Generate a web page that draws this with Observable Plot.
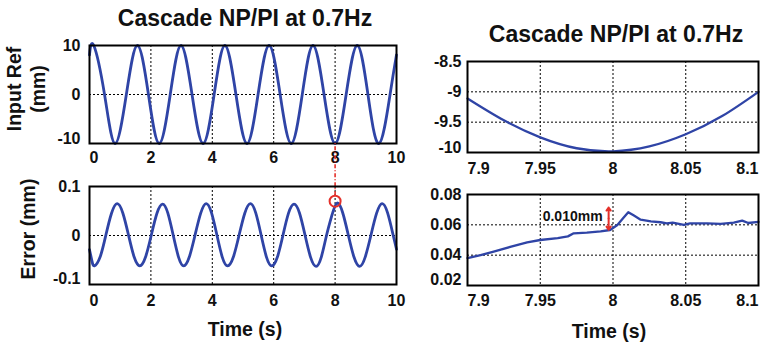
<!DOCTYPE html>
<html><head><meta charset="utf-8">
<script src="https://cdn.jsdelivr.net/npm/d3@7"></script>
<script src="https://cdn.jsdelivr.net/npm/@observablehq/plot@0.6"></script>
<style>
body{margin:0;background:#fff;}
#c{position:relative;width:760px;height:347px;overflow:hidden;font-family:'Liberation Sans',Arial,sans-serif;font-weight:bold;color:#111;}
.p{position:absolute;}
.t{position:absolute;white-space:pre;line-height:1;}
</style></head><body><div id="c"></div>
<script>
// ---------- data ----------
// Left top: input reference (mm) vs time (s)
const refT = [0, 0.14, 0.49, 0.83, 1.20, 1.56, 1.92, 2.27, 2.63, 2.98, 3.34, 3.70, 4.06, 4.41, 4.77, 5.13, 5.49, 5.85, 6.21, 6.57, 6.93, 7.28, 7.64, 8.00, 8.36, 8.72, 9.07, 9.43, 9.79, 10];
const refV = [8.1, 10, 0, -10, 0, 10, 0, -10, 0, 10, 0, -10, 0, 10, 0, -10, 0, 10, 0, -10, 0, 10, 0, -10, 0, 10, 0, -10, 0, 8.1];
// Left bottom: tracking error (mm) vs time (s)
const errT = [0, 0.08,
  0.16, 0.345, 0.53, 0.715, 0.90, 1.085, 1.27, 1.455,
  1.64, 1.825, 2.01, 2.195, 2.38, 2.55, 2.725, 2.90,
  3.07, 3.25, 3.435, 3.62, 3.80, 3.975, 4.15, 4.325,
  4.50, 4.685, 4.87, 5.055, 5.24, 5.415, 5.59, 5.765,
  5.94, 6.12, 6.30, 6.48, 6.66, 6.84, 7.02, 7.20,
  7.38, 7.55, 7.72, 7.89, 8.06, 8.245, 8.43, 8.615,
  8.80, 8.98, 9.165, 9.35, 9.53, 9.71, 9.89, 10];
const errV = [-0.029, -0.052,
  -0.062, -0.044, 0.000, 0.045, 0.065, 0.046, 0.001, -0.044,
  -0.062, -0.044, 0.000, 0.045, 0.064, 0.046, 0.001, -0.044,
  -0.062, -0.044, 0.000, 0.045, 0.065, 0.046, 0.001, -0.044,
  -0.062, -0.044, 0.000, 0.045, 0.065, 0.046, 0.001, -0.044,
  -0.062, -0.044, 0.000, 0.045, 0.064, 0.046, 0.001, -0.044,
  -0.063, -0.044, 0.000, 0.040, 0.066, 0.047, 0.001, -0.044,
  -0.063, -0.044, 0.000, 0.045, 0.065, 0.046, 0.001, -0.028];
// Right top: zoom of input reference around t = 8 s
const zRefT = [7.9, 7.925, 7.95, 7.975, 8.0, 8.025, 8.05, 8.075, 8.1];
const zRefV = [-9.11, -9.47, -9.75, -9.93, -9.98, -9.90, -9.70, -9.40, -9.0];
// Right bottom: zoom of error around t = 8 s
const zErrT = [7.9, 7.909, 7.918, 7.930, 7.941, 7.950, 7.962, 7.969, 7.973, 7.982, 7.9915, 7.998, 8.003, 8.0075, 8.0105, 8.0144, 8.019, 8.026, 8.0327, 8.037, 8.041, 8.0487, 8.053, 8.0648, 8.074, 8.083, 8.0888, 8.093, 8.1];
const zErrV = [0.0381, 0.0400, 0.0424, 0.0456, 0.0484, 0.0500, 0.0513, 0.0524, 0.0544, 0.0548, 0.0557, 0.0566, 0.0599, 0.0650, 0.0683, 0.0661, 0.0634, 0.0623, 0.0617, 0.0610, 0.0615, 0.0599, 0.0610, 0.0610, 0.0606, 0.0615, 0.0628, 0.0612, 0.0620];
// ticks
const fullTicksX = [0, 2, 4, 6, 8, 10];
const refTicksY = [-10, 0, 10];
const errTicksY = [-0.1, 0, 0.1];
const zTicksX = [7.9, 7.95, 8, 8.05, 8.1];
const zRefTicksY = [-10, -9.5, -9, -8.5];
const zErrTicksY = [0.02, 0.04, 0.06, 0.08];
// annotations
const markT = [8];
const markErr = [0.070];
const linkSpan = [0.081, 0.188];
const gapT = [7.997];
const gapLow = [0.0568];
const gapHigh = [0.0714];
const gapLabel = ["0.010mm"];
const gapLabelY = [0.0655];
const titleText = "Cascade NP/PI at 0.7Hz";
const labelRef = "Input Ref\n(mm)";
const labelErr = "Error (mm)";
const labelTime = "Time (s)";

// ---------- drawing ----------
const FONT = "'Liberation Sans', Arial, sans-serif";
const BLUE = "#2f44a6";
const RED = "#e4302a";
const rows = (T, V) => T.map((t, i) => ({t, v: V[i]}));
const fmt = d => String(d);

function panel(o) {
  const common = {tickSize: 0, tickFormat: fmt, fontSize: 16, fontWeight: "bold", label: null, fill: "#111"};
  const grid = {stroke: "#000", strokeOpacity: 1, strokeWidth: 1, strokeDasharray: "2,2"};
  const xt = o.xTicks, yt = o.yTicks;
  const marks = [
    Plot.gridX(xt.slice(1, -1), grid),
    Plot.gridY(yt.slice(1, -1), grid),
    Plot.line(o.data, {x: "t", y: "v", stroke: BLUE, strokeWidth: o.sw, curve: o.curve}),
    ...(o.extra || []),
    Plot.frame({stroke: "#000", strokeWidth: 2}),
    Plot.axisX({...common, ticks: [xt[0]], tickPadding: o.xPad, textAnchor: "start"}),
    Plot.axisX({...common, ticks: xt.slice(1, -1), tickPadding: o.xPad}),
    Plot.axisX({...common, ticks: [xt[xt.length - 1]], tickPadding: o.xPad, textAnchor: o.lastAnchor}),
    Plot.axisY({...common, ticks: yt.slice(1), tickPadding: o.yPad}),
    Plot.axisY({...common, ticks: [yt[0]], tickPadding: o.yPad, dy: o.bottomDy})
  ];
  const svg = Plot.plot({
    width: o.w, height: o.h,
    marginLeft: o.m[0], marginRight: o.m[1], marginTop: o.m[2], marginBottom: o.m[3],
    x: {domain: o.xDomain, label: null},
    y: {domain: o.yDomain, label: null},
    style: {background: "transparent", overflow: "visible", fontFamily: FONT},
    marks
  });
  svg.classList.add("p");
  svg.style.left = o.left + "px";
  svg.style.top = o.top + "px";
  document.getElementById("c").appendChild(svg);
}

panel({data: rows(refT, refV), xDomain: [0, 10], yDomain: [-10, 10], xTicks: fullTicksX, yTicks: refTicksY,
  w: 400, h: 175, m: [89, 4, 45, 32], left: 0, top: 0, xPad: 8, yPad: 9, lastAnchor: "middle", bottomDy: -5,
  sw: 2.8, curve: "natural"});

const linkRows = markT.map((t, i) => ({t, v: markErr[i]}));
panel({data: rows(errT, errV), xDomain: [0, 10], yDomain: [-0.1, 0.1], xTicks: fullTicksX, yTicks: errTicksY,
  w: 400, h: 170, m: [89, 4, 46, 26], left: 0, top: 140, xPad: 10, yPad: 9, lastAnchor: "middle", bottomDy: -6,
  sw: 2.8, curve: "natural",
  extra: [
    Plot.ruleX(markT, {x: d => d, y1: linkSpan[0], y2: linkSpan[1], stroke: RED, strokeWidth: 1.6, strokeDasharray: "4,2,1,2"}),
    Plot.dot(linkRows, {x: "t", y: "v", r: 5.5, stroke: RED, strokeWidth: 2, fill: "none"})
  ]});

panel({data: rows(zRefT, zRefV), xDomain: [7.9, 8.1], yDomain: [-10, -8.5], xTicks: zTicksX, yTicks: zRefTicksY,
  w: 360, h: 180, m: [67, 2, 61, 28], left: 400, top: 0, xPad: 10, yPad: 6, lastAnchor: "end", bottomDy: -5,
  sw: 2.3, curve: "natural"});

const gapRows = gapT.flatMap((t, i) => {
  const mid = (gapLow[i] + gapHigh[i]) / 2;
  return [{t, a: mid, b: gapHigh[i]}, {t, a: mid, b: gapLow[i]}];
});
const labelRows = gapT.map((t, i) => ({t, y: gapLabelY[i], label: gapLabel[i]}));
panel({data: rows(zErrT, zErrV), xDomain: [7.9, 8.1], yDomain: [0.02, 0.08], xTicks: zTicksX, yTicks: zErrTicksY,
  w: 360, h: 135, m: [67, 2, 19, 25], left: 400, top: 175, xPad: 9, yPad: 6, lastAnchor: "end", bottomDy: -6,
  sw: 2.3, curve: "linear",
  extra: [
    Plot.arrow(gapRows, {x: "t", y1: "a", y2: "b", stroke: RED, strokeWidth: 2, headLength: 5, headAngle: 70}),
    Plot.text(labelRows, {x: "t", y: "y", text: "label", textAnchor: "end", dx: -6, fontSize: 14, fontWeight: "bold", fill: "#111"})
  ]});

// ---------- HTML text ----------
const c = document.getElementById("c");
function addText(txt, cx, baseline, fs) {
  const d = document.createElement("div");
  d.className = "t";
  d.textContent = txt;
  d.style.fontSize = fs + "px";
  d.style.left = cx + "px";
  d.style.top = (baseline - 0.8465 * fs) + "px";
  d.style.transform = "translateX(-50%)";
  c.appendChild(d);
}
function addVText(txt, cx, cy, fs, lh) {
  const d = document.createElement("div");
  d.className = "t";
  d.textContent = txt;
  d.style.fontSize = fs + "px";
  d.style.lineHeight = lh + "px";
  d.style.textAlign = "center";
  d.style.left = cx + "px";
  d.style.top = cy + "px";
  d.style.transform = "translate(-50%,-50%) rotate(-90deg)";
  c.appendChild(d);
}
addText(titleText, 245, 26.7, 23);
addText(titleText, 616, 42.7, 23);
addText(labelTime, 245, 336.5, 19.5);
addText(labelTime, 609, 339, 19.5);
addVText(labelRef, 26, 89, 19.5, 24);
addVText(labelErr, 27.5, 228.5, 19.5, 24);
</script></body></html>
